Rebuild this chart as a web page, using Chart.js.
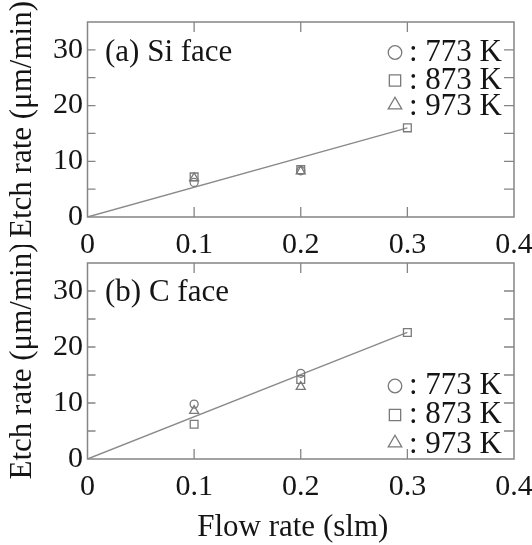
<!DOCTYPE html>
<html><head><meta charset="utf-8">
<script src="https://cdn.jsdelivr.net/npm/chart.js@4/dist/chart.umd.min.js"></script>
<style>
html,body{margin:0;padding:0;background:#fff;}
#wrap{position:relative;width:532px;height:545px;overflow:hidden;}
canvas{position:absolute;left:0;}
</style></head><body>
<div id="wrap">
<canvas id="c1" style="top:0;width:532px;height:265px"></canvas>
<canvas id="c2" style="top:245px;width:532px;height:300px"></canvas>
</div>
<script>
// ---- data ----
const flowRates = [0.1, 0.2, 0.3];
const seriesLabels = [': 773 K', ': 873 K', ': 973 K'];
const siFace773 = [6.2, 8.3, null];
const siFace873 = [7.2, 8.5, 16.0];
const siFace973 = [7.0, 8.2, null];
const cFace773 = [9.8, 15.3, null];
const cFace873 = [6.2, 14.2, 22.6];
const cFace973 = [8.6, 12.9, null];
const fitFlow = [0, 0.3];
const siFit = [0, 16.0];
const cFit = [0, 22.6];
const xTicks = [0, 0.1, 0.2, 0.3, 0.4];
const yTicks = [0, 10, 20, 30];
const xInnerTicks = [0.1, 0.2, 0.3];
const yInnerTicks = [5, 10, 15, 20, 25, 30];
const panelTitles = ['(a) Si face', '(b) C face'];
const yTitle = 'Etch rate (\u03bcm/min)';
const xTitle = 'Flow rate (slm)';

const GRAY = '#7a7a7a';
const TXT = '#151515';
const FONT = "'Liberation Serif', 'Times New Roman', serif";
const styles = ['circle', 'rect', 'triangle'];
const radii = [4, 5.5, 5.2];

function pts(xs, ys) {
  const out = [];
  xs.forEach((x, i) => { if (ys[i] !== null) out.push({x: x, y: ys[i]}); });
  return out;
}

const framePlugin = {
  id: 'frame',
  afterDraw(chart, args, opts) {
    const {ctx, chartArea: a, scales: {x, y}} = chart;
    ctx.save();
    ctx.strokeStyle = '#858585';
    ctx.lineWidth = 1.5;
    ctx.strokeRect(a.left, a.top, a.right - a.left, a.bottom - a.top);
    ctx.lineWidth = 1.3;
    ctx.beginPath();
    xInnerTicks.forEach(v => {
      const px = x.getPixelForValue(v);
      ctx.moveTo(px, a.bottom); ctx.lineTo(px, a.bottom - 10);
      ctx.moveTo(px, a.top); ctx.lineTo(px, a.top + 10);
    });
    yInnerTicks.forEach(v => {
      const py = y.getPixelForValue(v);
      ctx.moveTo(a.left, py); ctx.lineTo(a.left + 8, py);
      ctx.moveTo(a.right, py); ctx.lineTo(a.right - 10, py);
    });
    ctx.stroke();
    // panel title
    ctx.fillStyle = TXT;
    ctx.font = '31px ' + FONT;
    ctx.textBaseline = 'middle';
    ctx.textAlign = 'left';
    ctx.fillText(opts.title, a.left + 17.5, a.top + opts.titleDy);
    // x axis title (slightly left of plot centre, as in the original)
    if (opts.xTitle) {
      ctx.textAlign = 'center';
      ctx.fillText(opts.xTitle, (a.left + a.right) / 2 - 8, a.bottom + 69);
      ctx.textAlign = 'left';
    }
    // legend
    const sizes = [6.8, 8, 7.8];
    chart.data.datasets.forEach((ds, i) => {
      if (!ds.isSeries) return;
      const ry = a.top + opts.legendRows[i];
      ctx.strokeStyle = GRAY;
      ctx.fillStyle = 'rgba(0,0,0,0)';
      Chart.helpers.drawPoint(ctx, {pointStyle: ds.pointStyle, radius: sizes[i], borderWidth: 1.3, rotation: 0},
        a.right - 119, ry + (ds.pointStyle === 'triangle' ? -2 : 0));
      ctx.fillStyle = TXT;
      ctx.fillText(ds.label, a.right - 105, ry);
    });
    ctx.restore();
  }
};

function makePanel(id, h, padTop, xBoxH, series, fit, opts) {
  const cv = document.getElementById(id);
  cv.width = 532; cv.height = h;
  const datasets = series.map((s, i) => ({
    label: seriesLabels[i],
    isSeries: true,
    data: pts(flowRates, s),
    pointStyle: styles[i],
    pointRadius: radii[i],
    pointBorderWidth: 1.3,
    borderColor: GRAY,
    backgroundColor: 'rgba(0,0,0,0)',
    showLine: false
  }));
  datasets.push({
    label: 'fit',
    data: pts(fitFlow, fit),
    showLine: true,
    pointRadius: 0,
    borderColor: '#8a8a8a',
    borderWidth: 1.4,
    backgroundColor: 'rgba(0,0,0,0)'
  });
  return new Chart(cv, {
    type: 'scatter',
    data: {datasets},
    options: {
      responsive: false,
      animation: false,
      events: [],
      layout: {padding: {top: padTop, right: 18, left: 0, bottom: 0}},
      plugins: {legend: {display: false}, tooltip: {enabled: false}, frame: opts},
      scales: {
        x: {
          type: 'linear', min: 0, max: 0.4,
          afterBuildTicks: s => { s.ticks = xTicks.map(v => ({value: v})); },
          afterFit: s => { s.height = xBoxH; s.paddingRight = 0; s.paddingLeft = 0; },
          grid: {display: false, drawTicks: false},
          border: {display: false},
          ticks: {padding: 13, maxRotation: 0, color: TXT, font: {family: FONT, size: 30, lineHeight: 1},
                  callback: v => String(v)}
        },
        y: {
          type: 'linear', min: 0, max: 35,
          afterBuildTicks: s => { s.ticks = yTicks.map(v => ({value: v})); },
          afterFit: s => { s.width = 87.5; s.paddingTop = 0; s.paddingBottom = 0; },
          grid: {display: false, drawTicks: false},
          border: {display: false},
          ticks: {padding: 4.5, color: TXT, font: {family: FONT, size: 30, lineHeight: 1},
                  callback: v => String(v)},
          title: {display: true, text: yTitle, color: TXT, padding: {top: 7, bottom: 0},
                  font: {family: FONT, size: 31, lineHeight: 1}}
        }
      }
    },
    plugins: [framePlugin]
  });
}

makePanel('c1', 265, 22, 48, [siFace773, siFace873, siFace973], siFit,
  {title: panelTitles[0], titleDy: 31, legendRows: [30.5, 58.5, 85], xTitle: null});
makePanel('c2', 300, 18, 86, [cFace773, cFace873, cFace973], cFit,
  {title: panelTitles[1], titleDy: 30, legendRows: [123, 152, 182], xTitle: xTitle});
</script>
</body></html>
